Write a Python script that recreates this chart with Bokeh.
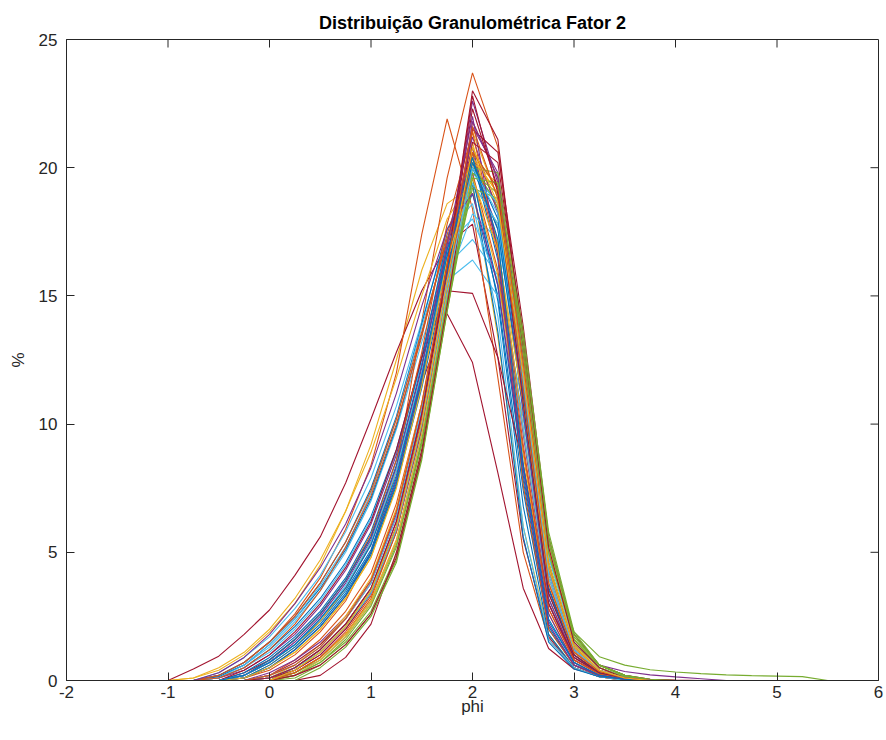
import math
from bokeh.plotting import figure
from bokeh.models import Range1d, FixedTicker
from bokeh.embed import file_html
from bokeh.resources import INLINE

title_text = "Distribuição Granulométrica Fator 2"
x_label = "phi"
y_label = "%"
x_ticks = [-2, -1, 0, 1, 2, 3, 4, 5, 6]
y_ticks = [0, 5, 10, 15, 20, 25]

phi = [-1.5, -1.25, -1.0, -0.75, -0.5, -0.25, 0.0, 0.25, 0.5, 0.75, 1.0, 1.25, 1.5,
       1.75, 2.0, 2.25, 2.5, 2.75, 3.0, 3.25, 3.5, 3.75, 4.0, 4.25, 4.5, 4.75, 5.0,
       5.25, 5.5, 5.75, 6.0]

sample_01 = [0, 0, 0, 0, 0.1, 0.5, 1.2, 2.1, 3.2, 4.6, 6.4, 9.0, 12.6, 16.4, 19.0, 15.0, 7.4, 2.0, 0.6, 0.2, 0.05, 0, 0, 0, 0, 0, 0, 0, 0, 0, 0]
sample_02 = [0, 0, 0, 0, 0, 0, 0.2, 0.8, 1.6, 2.7, 4.2, 6.9, 10.8, 15.6, 20.8, 18.4, 11.2, 3.8, 1.1, 0.4, 0.1, 0, 0, 0, 0, 0, 0, 0, 0, 0, 0]
sample_03 = [0, 0, 0, 0.1, 0.4, 1.0, 1.9, 3.0, 4.5, 6.6, 9.2, 12.5, 16.0, 18.6, 19.3, 13.4, 6.0, 1.8, 0.5, 0.15, 0, 0, 0, 0, 0, 0, 0, 0, 0, 0, 0]
sample_04 = [0, 0, 0, 0, 0, 0.2, 0.7, 1.4, 2.4, 3.6, 5.3, 8.2, 12.0, 16.2, 20.2, 17.6, 11.0, 4.2, 1.4, 0.6, 0.35, 0.22, 0.14, 0.07, 0, 0, 0, 0, 0, 0, 0]
sample_05 = [0, 0, 0, 0, 0, 0, 0, 0.5, 1.2, 2.2, 3.6, 6.0, 9.8, 14.8, 19.4, 17.8, 11.6, 4.8, 1.9, 0.93, 0.6, 0.42, 0.33, 0.27, 0.22, 0.19, 0.17, 0.15, 0, 0, 0]
sample_06 = [0, 0, 0, 0, 0.2, 0.6, 1.3, 2.3, 3.5, 5.0, 7.0, 9.8, 13.2, 16.2, 17.2, 15.8, 10.2, 3.6, 1.0, 0.3, 0.1, 0, 0, 0, 0, 0, 0, 0, 0, 0, 0]
sample_07 = [0, 0, 0, 0.45, 0.95, 1.8, 2.75, 4.1, 5.6, 7.7, 10.2, 12.8, 15.2, 17.0, 17.8, 12.6, 5.5, 1.7, 0.5, 0.15, 0, 0, 0, 0, 0, 0, 0, 0, 0, 0, 0]
sample_08 = [0, 0, 0, 0, 0.15, 0.6, 1.4, 2.4, 3.6, 5.1, 7.1, 9.9, 13.5, 17.2, 19.8, 14.8, 6.8, 1.8, 0.5, 0.15, 0.05, 0, 0, 0, 0, 0, 0, 0, 0, 0, 0]
sample_09 = [0, 0, 0, 0, 0, 0.1, 0.4, 1.0, 1.9, 3.1, 5.0, 8.2, 14.0, 19.6, 23.7, 20.8, 12.8, 4.4, 1.2, 0.4, 0.1, 0, 0, 0, 0, 0, 0, 0, 0, 0, 0]
sample_10 = [0, 0, 0, 0, 0, 0.1, 0.5, 1.1, 2.0, 3.2, 4.8, 7.6, 11.6, 16.4, 21.4, 18.8, 11.8, 4.2, 1.2, 0.4, 0.1, 0, 0, 0, 0, 0, 0, 0, 0, 0, 0]
sample_11 = [0, 0, 0, 0, 0, 0, 0.3, 0.8, 1.5, 2.5, 3.9, 6.5, 10.6, 16.0, 22.6, 19.4, 11.2, 3.6, 1.0, 0.3, 0.1, 0, 0, 0, 0, 0, 0, 0, 0, 0, 0]
sample_12 = [0, 0, 0, 0, 0, 0, 0, 0.3, 0.9, 1.8, 3.1, 5.4, 9.3, 14.6, 20.0, 18.6, 12.4, 5.0, 1.6, 0.6, 0.2, 0.05, 0, 0, 0, 0, 0, 0, 0, 0, 0]
sample_13 = [0, 0, 0, 0, 0.1, 0.5, 1.1, 2.0, 3.1, 4.5, 6.3, 8.9, 12.4, 15.6, 16.4, 15.0, 10.8, 4.4, 1.3, 0.4, 0.1, 0, 0, 0, 0, 0, 0, 0, 0, 0, 0]
sample_14 = [0, 0, 0, 0, 0, 0.3, 0.8, 1.6, 2.6, 3.9, 5.6, 8.3, 11.6, 14.3, 12.4, 8.1, 3.6, 1.25, 0.45, 0.2, 0.05, 0, 0, 0, 0, 0, 0, 0, 0, 0, 0]
sample_15 = [0, 0, 0, 0, 0, 0.2, 0.7, 1.4, 2.3, 3.5, 5.1, 7.9, 11.8, 16.5, 20.6, 17.0, 9.8, 3.0, 0.8, 0.25, 0.05, 0, 0, 0, 0, 0, 0, 0, 0, 0, 0]
sample_16 = [0, 0, 0, 0, 0.2, 0.7, 1.5, 2.6, 4.0, 5.9, 8.4, 12.0, 17.4, 21.9, 18.4, 11.8, 5.0, 1.6, 0.5, 0.15, 0, 0, 0, 0, 0, 0, 0, 0, 0, 0, 0]
sample_17 = [0, 0, 0, 0, 0, 0, 0.1, 0.6, 1.4, 2.5, 4.0, 6.7, 10.8, 15.8, 20.4, 19.0, 12.6, 5.0, 1.5, 0.5, 0.15, 0, 0, 0, 0, 0, 0, 0, 0, 0, 0]
sample_18 = [0, 0, 0, 0, 0.1, 0.4, 1.0, 1.8, 2.9, 4.3, 6.1, 8.8, 12.6, 17.0, 20.8, 16.8, 9.6, 3.0, 0.8, 0.3, 0.1, 0, 0, 0, 0, 0, 0, 0, 0, 0, 0]
sample_19 = [0, 0, 0, 0, 0, 0, 0, 0.2, 0.7, 1.5, 2.7, 4.9, 8.9, 14.6, 20.6, 19.2, 13.0, 5.4, 1.8, 0.6, 0.2, 0, 0, 0, 0, 0, 0, 0, 0, 0, 0]
sample_20 = [0, 0, 0, 0, 0.3, 0.9, 1.7, 2.8, 4.1, 5.8, 7.9, 10.7, 14.0, 17.4, 18.6, 14.2, 6.0, 1.6, 0.5, 0.15, 0, 0, 0, 0, 0, 0, 0, 0, 0, 0, 0]
sample_21 = [0, 0, 0, 0, 0, 0, 0.2, 0.7, 1.4, 2.4, 3.8, 6.4, 10.4, 16.2, 23.0, 21.1, 12.8, 4.6, 1.3, 0.4, 0.1, 0, 0, 0, 0, 0, 0, 0, 0, 0, 0]
sample_22 = [0, 0, 0, 0, 0.2, 0.7, 1.5, 2.5, 3.8, 5.4, 7.5, 10.3, 13.9, 17.6, 19.4, 13.6, 5.6, 1.5, 0.45, 0.15, 0.05, 0, 0, 0, 0, 0, 0, 0, 0, 0, 0]
sample_23 = [0, 0, 0, 0, 0, 0, 0.1, 0.3, 0.9, 1.8, 3.2, 5.8, 10.0, 15.6, 21.8, 19.6, 12.0, 4.0, 1.1, 0.35, 0.1, 0, 0, 0, 0, 0, 0, 0, 0, 0, 0]
sample_24 = [0, 0, 0, 0, 0, 0.1, 0.6, 1.3, 2.3, 3.6, 5.4, 8.2, 12.2, 17.0, 21.0, 17.0, 9.8, 3.2, 0.9, 0.3, 0.05, 0, 0, 0, 0, 0, 0, 0, 0, 0, 0]
sample_25 = [0, 0, 0, 0, 0, 0, 0.1, 0.5, 1.2, 2.2, 3.6, 6.2, 10.4, 15.8, 21.6, 19.8, 12.6, 4.4, 1.3, 0.4, 0.1, 0, 0, 0, 0, 0, 0, 0, 0, 0, 0]
sample_26 = [0, 0, 0, 0, 0, 0, 0, 0.4, 1.1, 2.1, 3.5, 5.9, 9.9, 15.2, 20.2, 18.4, 12.0, 4.6, 1.4, 0.5, 0.15, 0, 0, 0, 0, 0, 0, 0, 0, 0, 0]
sample_27 = [0, 0, 0, 0, 0.1, 0.6, 1.4, 2.4, 3.7, 5.2, 7.3, 10.2, 13.8, 17.0, 18.0, 15.6, 9.8, 3.2, 0.9, 0.3, 0.05, 0, 0, 0, 0, 0, 0, 0, 0, 0, 0]
sample_28 = [0, 0, 0, 0, 0, 0, 0, 0, 0.2, 0.9, 2.2, 5.0, 9.0, 15.0, 21.5, 20.6, 13.8, 5.6, 1.8, 0.6, 0.2, 0.05, 0.02, 0, 0, 0, 0, 0, 0, 0, 0]
sample_29 = [0, 0, 0, 0, 0, 0.3, 0.9, 1.7, 2.7, 4.0, 5.8, 8.6, 12.6, 17.2, 20.4, 16.4, 7.8, 2.1, 0.6, 0.2, 0.05, 0, 0, 0, 0, 0, 0, 0, 0, 0, 0]
sample_30 = [0, 0, 0, 0, 0.1, 0.5, 1.2, 2.2, 3.5, 5.2, 7.2, 10.0, 13.4, 17.4, 20.6, 16.6, 9.2, 2.8, 0.8, 0.25, 0.05, 0, 0, 0, 0, 0, 0, 0, 0, 0, 0]
sample_31 = [0, 0, 0, 0, 0, 0, 0, 0.3, 0.9, 1.8, 3.1, 5.5, 9.6, 15.0, 20.2, 19.4, 13.4, 5.2, 1.6, 0.5, 0.15, 0, 0, 0, 0, 0, 0, 0, 0, 0, 0]
sample_32 = [0, 0, 0, 0, 0, 0.1, 0.5, 1.2, 2.1, 3.3, 5.0, 7.8, 11.8, 16.8, 21.2, 18.2, 10.4, 3.2, 0.9, 0.3, 0.1, 0, 0, 0, 0, 0, 0, 0, 0, 0, 0]
sample_33 = [0, 0, 0, 0, 0, 0, 0, 0.1, 0.6, 1.4, 2.6, 4.7, 8.7, 14.4, 20.0, 19.8, 13.6, 5.8, 1.9, 0.6, 0.2, 0.05, 0, 0, 0, 0, 0, 0, 0, 0, 0]
sample_34 = [0, 0, 0, 0, 0, 0, 0.2, 0.6, 1.3, 2.4, 3.8, 6.4, 10.6, 15.6, 18.2, 17.2, 11.8, 4.4, 1.3, 0.4, 0.1, 0, 0, 0, 0, 0, 0, 0, 0, 0, 0]
sample_35 = [0, 0, 0, 0, 0, 0.4, 1.0, 1.9, 3.0, 4.4, 6.2, 9.0, 12.6, 15.2, 15.1, 12.6, 8.4, 3.0, 0.9, 0.3, 0.1, 0, 0, 0, 0, 0, 0, 0, 0, 0, 0]
sample_36 = [0, 0, 0, 0, 0, 0.1, 0.6, 1.3, 2.2, 3.4, 5.0, 7.7, 11.6, 16.4, 20.0, 17.6, 10.6, 3.4, 1.0, 0.3, 0.1, 0, 0, 0, 0, 0, 0, 0, 0, 0, 0]
sample_37 = [0, 0, 0, 0, 0, 0.2, 0.8, 1.6, 2.6, 3.9, 5.7, 8.6, 12.8, 17.8, 21.4, 16.8, 7.6, 2.0, 0.6, 0.2, 0.05, 0, 0, 0, 0, 0, 0, 0, 0, 0, 0]
sample_38 = [0, 0, 0, 0.1, 0.5, 1.1, 2.0, 3.2, 4.7, 6.6, 8.9, 11.8, 15.0, 18.0, 19.6, 15.8, 8.8, 2.6, 0.7, 0.2, 0.05, 0, 0, 0, 0, 0, 0, 0, 0, 0, 0]
sample_39 = [0, 0, 0, 0, 0, 0, 0, 0.4, 1.0, 2.0, 3.4, 5.8, 9.8, 15.4, 21.8, 19.6, 12.2, 4.2, 1.2, 0.4, 0.1, 0, 0, 0, 0, 0, 0, 0, 0, 0, 0]
sample_40 = [0, 0, 0, 0, 0, 0, 0, 0.3, 0.8, 1.7, 3.0, 5.3, 9.4, 14.9, 19.2, 18.8, 13.2, 5.4, 1.7, 0.6, 0.2, 0, 0, 0, 0, 0, 0, 0, 0, 0, 0]
sample_41 = [0, 0, 0, 0, 0, 0, 0, 0.2, 0.8, 1.7, 3.0, 5.4, 9.6, 15.0, 19.8, 18.6, 12.4, 4.8, 1.5, 0.5, 0.15, 0, 0, 0, 0, 0, 0, 0, 0, 0, 0]
sample_42 = [0, 0, 0, 0, 0, 0, 0.1, 0.4, 1.0, 2.0, 3.4, 6.0, 10.2, 16.0, 22.3, 19.2, 11.4, 3.6, 1.0, 0.3, 0.1, 0, 0, 0, 0, 0, 0, 0, 0, 0, 0]
sample_43 = [0, 0, 0, 0, 0, 0.2, 0.8, 1.6, 2.6, 3.9, 5.6, 8.4, 12.3, 16.8, 19.6, 15.4, 8.0, 2.3, 0.7, 0.2, 0.05, 0, 0, 0, 0, 0, 0, 0, 0, 0, 0]
sample_44 = [0, 0, 0, 0, 0.2, 0.7, 1.5, 2.5, 3.8, 5.4, 7.4, 10.2, 13.6, 17.2, 19.8, 16.0, 9.0, 2.8, 0.8, 0.25, 0.05, 0, 0, 0, 0, 0, 0, 0, 0, 0, 0]
sample_45 = [0, 0, 0, 0, 0, 0, 0, 0.2, 0.8, 1.7, 3.0, 5.4, 9.6, 15.2, 20.4, 19.0, 12.4, 4.6, 1.4, 0.4, 0.1, 0, 0, 0, 0, 0, 0, 0, 0, 0, 0]
sample_46 = [0, 0, 0, 0, 0, 0.2, 0.7, 1.5, 2.5, 3.8, 5.5, 8.3, 12.2, 17.0, 22.0, 16.6, 8.2, 2.2, 0.6, 0.2, 0.05, 0, 0, 0, 0, 0, 0, 0, 0, 0, 0]
sample_47 = [0, 0, 0, 0, 0, 0, 0, 0.2, 0.7, 1.6, 2.9, 5.2, 9.2, 14.8, 19.8, 19.0, 12.8, 5.0, 1.6, 0.5, 0.15, 0, 0, 0, 0, 0, 0, 0, 0, 0, 0]
sample_48 = [0, 0, 0, 0, 0, 0.2, 0.7, 1.4, 2.4, 3.7, 5.4, 8.2, 12.0, 16.4, 19.4, 17.8, 11.4, 4.0, 1.1, 0.35, 0.1, 0, 0, 0, 0, 0, 0, 0, 0, 0, 0]
sample_49 = [0, 0, 0, 0, 0, 0, 0, 0.2, 0.6, 1.4, 2.6, 4.8, 8.8, 14.6, 21.0, 20.2, 13.4, 5.2, 1.5, 0.5, 0.1, 0, 0, 0, 0, 0, 0, 0, 0, 0, 0]
sample_50 = [0, 0, 0, 0, 0, 0.1, 0.5, 1.2, 2.1, 3.3, 4.9, 7.6, 11.4, 16.0, 20.2, 18.0, 11.2, 3.6, 1.0, 0.3, 0.1, 0, 0, 0, 0, 0, 0, 0, 0, 0, 0]
sample_51 = [0, 0, 0, 0, 0, 0, 0, 0.3, 0.9, 1.9, 3.3, 5.8, 9.9, 15.4, 20.6, 19.2, 12.4, 4.4, 1.3, 0.4, 0.1, 0, 0, 0, 0, 0, 0, 0, 0, 0, 0]
sample_52 = [0, 0, 0, 0, 0, 0.1, 0.5, 1.1, 2.0, 3.2, 4.8, 7.5, 11.5, 16.4, 19.6, 16.8, 10.8, 3.8, 1.1, 0.35, 0.1, 0, 0, 0, 0, 0, 0, 0, 0, 0, 0]
sample_53 = [0, 0, 0, 0, 0.3, 0.9, 1.8, 3.0, 4.4, 6.1, 8.3, 11.2, 14.6, 17.6, 19.0, 15.4, 8.4, 2.6, 0.7, 0.2, 0.05, 0, 0, 0, 0, 0, 0, 0, 0, 0, 0]
sample_54 = [0, 0, 0, 0, 0, 0, 0, 0, 0.5, 1.3, 2.5, 4.6, 8.6, 14.4, 19.6, 19.4, 13.4, 5.6, 1.8, 0.6, 0.2, 0, 0, 0, 0, 0, 0, 0, 0, 0, 0]
sample_55 = [0, 0, 0, 0, 0, 0, 0.1, 0.5, 1.1, 2.1, 3.4, 5.9, 10.0, 15.4, 20.0, 18.2, 11.6, 4.2, 1.2, 0.4, 0.1, 0, 0, 0, 0, 0, 0, 0, 0, 0, 0]
sample_56 = [0, 0, 0, 0, 0, 0, 0.1, 0.5, 1.2, 2.2, 3.6, 6.2, 10.4, 16.2, 22.8, 19.0, 10.8, 3.4, 1.0, 0.3, 0.1, 0, 0, 0, 0, 0, 0, 0, 0, 0, 0]
sample_57 = [0, 0, 0, 0, 0, 0.2, 0.7, 1.4, 2.4, 3.6, 5.3, 8.0, 11.9, 16.6, 20.4, 17.2, 8.4, 2.4, 0.7, 0.2, 0.05, 0, 0, 0, 0, 0, 0, 0, 0, 0, 0]
sample_58 = [0, 0, 0, 0, 0, 0, 0.2, 0.6, 1.3, 2.4, 3.9, 6.6, 10.8, 16.2, 21.6, 18.8, 11.4, 3.8, 1.1, 0.35, 0.1, 0, 0, 0, 0, 0, 0, 0, 0, 0, 0]
sample_59 = [0, 0, 0, 0, 0, 0, 0, 0.4, 1.1, 2.1, 3.5, 6.0, 10.1, 15.6, 20.8, 18.6, 12.0, 4.4, 1.3, 0.4, 0.1, 0, 0, 0, 0, 0, 0, 0, 0, 0, 0]

samples = [sample_01, sample_02, sample_03, sample_04, sample_05, sample_06, sample_07,
           sample_08, sample_09, sample_10, sample_11, sample_12, sample_13, sample_14,
           sample_15, sample_16, sample_17, sample_18, sample_19, sample_20, sample_21,
           sample_22, sample_23, sample_24, sample_25, sample_26, sample_27, sample_28,
           sample_29, sample_30, sample_31, sample_32, sample_33, sample_34, sample_35,
           sample_36, sample_37, sample_38, sample_39, sample_40, sample_41, sample_42,
           sample_43, sample_44, sample_45, sample_46, sample_47, sample_48, sample_49,
           sample_50, sample_51, sample_52, sample_53, sample_54, sample_55, sample_56,
           sample_57, sample_58, sample_59]

palette = ["#0072BD", "#D95319", "#EDB120", "#7E2F8E", "#77AC30", "#4DBEEE", "#A2142F"]
axis_color = "#262626"
font = "Liberation Sans"
x_min, x_max = x_ticks[0], x_ticks[-1]
y_min, y_max = y_ticks[0], y_ticks[-1]

p = figure(width=886, height=740, output_backend="svg", toolbar_location=None,
           x_range=Range1d(x_min, x_max), y_range=Range1d(y_min, y_max),
           min_border_left=66, min_border_right=8, min_border_top=39, min_border_bottom=60)
p.background_fill_color = "white"
p.border_fill_color = "white"
p.grid.visible = False
p.outline_line_color = axis_color
p.outline_line_width = 1

for i, ys in enumerate(samples):
    p.line(phi, ys, line_color=palette[i % 7], line_width=1.1)

# inward ticks on the top and right edges of the box
p.ray(x=x_ticks[1:-1], y=[y_max] * (len(x_ticks) - 2), length=8, length_units="screen",
      angle=-math.pi / 2, line_color=axis_color, line_width=1)
p.ray(x=[x_max] * (len(y_ticks) - 2), y=y_ticks[1:-1], length=8, length_units="screen",
      angle=math.pi, line_color=axis_color, line_width=1)

p.title.text = title_text
p.title.align = "center"
p.title.text_font = font
p.title.text_font_size = "18px"
p.title.text_font_style = "bold"
p.title.text_color = "black"
p.title.standoff = 13

def style_axis(ax, ticks):
    ax.ticker = FixedTicker(ticks=ticks)
    ax.major_tick_in = 8
    ax.major_tick_out = 0
    ax.minor_tick_line_color = None
    ax.axis_line_color = axis_color
    ax.major_tick_line_color = axis_color
    ax.major_label_text_font = font
    ax.major_label_text_font_size = "17px"
    ax.major_label_text_color = axis_color
    ax.axis_label_text_font = font
    ax.axis_label_text_font_size = "17px"
    ax.axis_label_text_font_style = "normal"
    ax.axis_label_text_color = axis_color
    ax.major_label_overrides = {t: str(t) for t in ticks}

style_axis(p.xaxis[0], x_ticks)
p.xaxis[0].axis_label = x_label
p.xaxis[0].major_label_standoff = 5
p.xaxis[0].axis_label_standoff = -4

style_axis(p.yaxis[0], y_ticks)
p.yaxis[0].axis_label = y_label
p.yaxis[0].major_label_standoff = 9
p.yaxis[0].axis_label_standoff = 8

open("out.html", "w").write(file_html(p, INLINE))
